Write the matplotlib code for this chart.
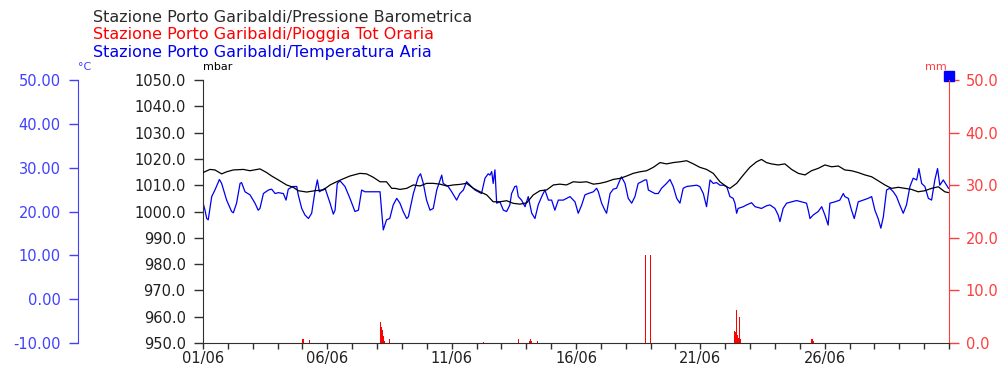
import numpy as np
import matplotlib.pyplot as plt

# Stazione Porto Garibaldi, June: time as days since 01/06 00:00
press_day = [0.00, 0.28, 0.48, 0.75, 0.95, 1.22, 1.62, 1.89, 2.29, 2.56, 2.76, 3.03,
             3.36, 3.63, 3.83, 4.17, 4.50, 4.84, 5.11, 5.37, 5.58, 5.91, 6.31, 6.58,
             6.85, 7.12, 7.38, 7.59, 7.72, 7.92, 8.19, 8.46, 8.73, 8.99, 9.26, 9.53,
             9.80, 10.07, 10.33, 10.60, 10.87, 11.14, 11.41, 11.67, 11.94, 12.21, 12.48,
             12.75, 13.02, 13.28, 13.55, 13.82, 14.09, 14.35, 14.62, 14.89, 15.16, 15.43,
             15.70, 15.96, 16.23, 16.50, 16.77, 17.04, 17.30, 17.57, 17.84, 18.11, 18.38,
             18.64, 18.91, 19.18, 19.45, 19.72, 19.98, 20.25, 20.52, 20.79, 21.06, 21.19,
             21.46, 21.73, 21.99, 22.26, 22.46, 22.66, 22.86, 23.13, 23.40, 23.67, 23.94,
             24.21, 24.47, 24.74, 25.01, 25.28, 25.55, 25.81, 26.08, 26.35, 26.62, 26.89,
             27.15, 27.42, 27.69, 27.96, 28.23, 28.49, 28.76, 29.03, 29.30, 29.57, 29.83,
             29.97]
press_val = [1014.8, 1016.0, 1015.8, 1014.3, 1015.1, 1015.8, 1016.0, 1015.5, 1016.2, 1014.8,
             1013.5, 1012.0, 1010.1, 1009.2, 1007.9, 1007.4, 1007.9, 1008.2, 1010.1, 1011.3,
             1012.2, 1013.5, 1014.5, 1014.3, 1013.0, 1011.3, 1011.3, 1008.8, 1008.8, 1008.4,
             1008.8, 1010.1, 1009.7, 1010.7, 1010.7, 1010.4, 1009.7, 1010.1, 1010.3, 1010.7,
             1008.8, 1007.5, 1006.3, 1003.7, 1003.7, 1004.1, 1003.1, 1002.8, 1003.3, 1006.3,
             1007.9, 1008.2, 1010.1, 1010.4, 1010.1, 1011.3, 1011.1, 1011.3, 1010.4, 1010.7,
             1011.3, 1012.2, 1012.6, 1013.5, 1014.5, 1015.1, 1015.5, 1016.8, 1018.6, 1018.1,
             1018.6, 1018.9, 1019.3, 1018.1, 1016.8, 1016.0, 1014.5, 1011.3, 1009.4, 1008.8,
             1010.7, 1013.9, 1016.8, 1018.9, 1019.8, 1018.6, 1018.1, 1017.7, 1018.1, 1016.0,
             1014.5, 1013.9, 1015.5, 1016.4, 1017.7, 1017.0, 1017.3, 1015.8, 1015.5, 1014.8,
             1013.9, 1013.2, 1011.7, 1010.1, 1008.8, 1009.2, 1008.8, 1008.4, 1007.5, 1007.9,
             1008.8, 1009.4, 1007.5, 1007.2]

temp_day = [0.00, 0.08, 0.15, 0.21, 0.35, 0.48, 0.66, 0.75, 0.95, 1.15, 1.22, 1.35, 1.49,
            1.55, 1.69, 1.89, 2.09, 2.22, 2.29, 2.43, 2.63, 2.76, 2.90, 3.03, 3.23, 3.34,
            3.43, 3.61, 3.77, 3.83, 3.97, 4.10, 4.24, 4.37, 4.50, 4.60, 4.68, 4.91, 5.11,
            5.24, 5.31, 5.40, 5.51, 5.71, 5.91, 6.11, 6.25, 6.38, 6.51, 6.85, 7.12, 7.18,
            7.25, 7.38, 7.51, 7.65, 7.79, 7.92, 8.05, 8.19, 8.26, 8.46, 8.66, 8.75, 8.86,
            8.99, 9.13, 9.26, 9.40, 9.60, 9.66, 9.86, 10.00, 10.20, 10.33, 10.47, 10.60,
            10.74, 10.94, 11.07, 11.20, 11.34, 11.47, 11.54, 11.61, 11.67, 11.74, 11.81,
            11.94, 12.08, 12.21, 12.34, 12.41, 12.54, 12.61, 12.68, 12.81, 12.95, 13.08,
            13.22, 13.35, 13.48, 13.62, 13.75, 13.89, 14.02, 14.15, 14.29, 14.49, 14.76,
            14.96, 15.09, 15.23, 15.36, 15.49, 15.70, 15.83, 15.90, 16.03, 16.16, 16.23,
            16.37, 16.50, 16.63, 16.77, 16.83, 16.97, 17.10, 17.24, 17.37, 17.50, 17.64,
            17.77, 17.84, 17.91, 18.04, 18.17, 18.31, 18.44, 18.64, 18.78, 18.91, 19.05,
            19.18, 19.31, 19.45, 19.58, 19.85, 19.98, 20.12, 20.25, 20.32, 20.39, 20.52,
            20.65, 20.79, 20.92, 21.06, 21.19, 21.32, 21.39, 21.46, 21.52, 21.73, 21.86,
            22.06, 22.20, 22.33, 22.46, 22.66, 22.80, 23.00, 23.13, 23.20, 23.33, 23.47,
            23.67, 23.87, 24.07, 24.27, 24.34, 24.41, 24.54, 24.74, 24.88, 25.01, 25.14,
            25.21, 25.41, 25.61, 25.75, 25.81, 25.95, 26.08, 26.19, 26.35, 26.55, 26.75,
            26.89, 27.02, 27.15, 27.26, 27.36, 27.49, 27.62, 27.76, 27.89, 28.02, 28.16,
            28.29, 28.43, 28.56, 28.70, 28.79, 28.90, 29.03, 29.17, 29.30, 29.43, 29.54,
            29.63, 29.77, 29.90, 29.98]
temp_val = [22.0, 20.3, 18.4, 18.1, 23.4, 24.9, 27.3, 26.4, 22.6, 20.0, 19.7, 21.9, 26.4,
            26.6, 24.5, 23.8, 21.9, 20.3, 20.7, 24.1, 24.9, 25.1, 24.1, 24.3, 24.1, 22.6,
            25.1, 25.7, 25.7, 23.8, 20.7, 19.2, 18.4, 19.6, 24.5, 27.2, 24.5, 25.3, 21.9,
            19.4, 20.3, 26.4, 27.0, 25.7, 23.0, 20.0, 20.3, 24.9, 24.5, 24.5, 24.5, 20.3,
            15.8, 18.1, 18.4, 21.5, 23.0, 21.9, 20.0, 18.4, 18.8, 24.1, 27.9, 28.6, 26.4,
            22.6, 20.3, 20.7, 24.9, 28.3, 26.4, 25.7, 24.5, 22.6, 24.1, 24.9, 26.8,
            26.0, 24.9, 24.5, 24.1, 27.6, 28.6, 28.3, 29.1, 26.4, 29.5, 21.9,
            22.2, 20.3, 20.0, 21.5, 24.1, 25.7, 25.8, 23.4, 22.6, 21.1, 23.4,
            19.6, 18.4, 21.5, 23.4, 24.9, 22.6, 22.6, 20.3, 22.6, 22.6, 23.4,
            22.2, 19.6, 21.5, 23.8, 24.1, 24.5, 25.3, 24.5, 21.9, 20.3, 19.6,
            24.1, 25.1, 25.3, 27.2, 27.9, 26.4, 23.0, 21.9, 23.4, 26.4, 26.8,
            27.2, 27.2, 24.9, 24.5, 24.1, 24.1, 25.3, 26.4, 27.3, 25.7, 23.0,
            21.9, 25.3, 25.7, 25.8, 26.0, 25.7, 24.1, 21.1, 24.1, 27.2, 26.4,
            26.6, 26.0, 26.0, 25.7, 23.4, 23.0, 21.9, 19.6, 20.7, 21.1, 21.5,
            22.0, 21.1, 20.9, 20.7, 21.3, 21.5, 20.7, 19.2, 17.7, 20.7, 21.9,
            22.2, 22.5, 22.2, 21.9, 20.3, 18.4, 19.2, 20.0, 21.1, 19.2, 16.9,
            21.9, 22.2, 22.6, 24.1, 23.4, 23.0, 20.3, 18.4, 22.2, 22.6, 23.0,
            23.4, 20.3, 18.4, 16.2, 18.8, 24.9, 25.3, 24.5, 23.4, 21.5, 19.6,
            21.5, 25.7, 27.6, 27.2, 29.8, 26.4, 25.7, 23.0, 22.6, 27.2, 29.8,
            26.0, 27.2, 26.0, 25.3]

rain_day = [4.00, 4.25, 7.10, 7.14, 7.18, 7.22, 7.26, 7.48, 11.25, 12.67, 13.10, 13.15,
            13.19, 13.42, 17.77, 17.96, 21.35, 21.39, 21.43, 21.47, 21.51, 21.55, 21.59,
            24.47, 24.51]
rain_val = [0.7, 0.5, 4.0, 3.1, 2.5, 1.3, 0.4, 0.7, 0.1, 0.7, 0.4, 0.8,
            0.4, 0.4, 16.7, 16.7, 2.2, 2.0, 6.3, 1.5, 1.0, 4.9, 0.8,
            0.7, 0.3]

day_ticks = np.arange(0, 31)
label_days = [0, 5, 10, 15, 20, 25]
day_labels = ['01/06', '06/06', '11/06', '16/06', '21/06', '26/06']

series_names = ['Stazione Porto Garibaldi/Pressione Barometrica',
                'Stazione Porto Garibaldi/Pioggia Tot Oraria',
                'Stazione Porto Garibaldi/Temperatura Aria']

BLACK = '#000000'
AXGRAY = '#303030'
RED = '#ff0000'
RED_AX = '#ff3c3c'
BLUE = '#0000f0'
BLUE_AX = '#4040ff'

plt.rcParams['font.family'] = 'DejaVu Sans'
plt.rcParams['font.size'] = 10

fig = plt.figure(figsize=(10.03, 3.65), dpi=100)
W, H = 1003, 365
ax_p = fig.add_axes([203 / W, 22 / H, 746 / W, 263 / H])
ax_t = ax_p.twinx()
ax_r = ax_p.twinx()

# rain bars (hourly totals) on the right axis
ax_r.bar(rain_day, rain_val, width=0.042, align='edge', color=RED, linewidth=0)
ax_r.set_ylim(0, 50)
ax_r.set_yticks(np.arange(0, 51, 10))
ax_r.set_yticklabels(['%.1f' % v for v in np.arange(0, 51, 10)])
for s in ['top', 'left', 'bottom']:
    ax_r.spines[s].set_visible(False)
ax_r.spines['right'].set_color(RED_AX)
ax_r.tick_params(axis='y', colors=RED_AX, length=7, width=1, pad=5, labelsize=10.5)

# air temperature on an outer left axis
ax_t.plot(temp_day, temp_val, color=BLUE, lw=0.9)
ax_t.set_ylim(-10, 50)
ax_t.set_yticks(np.arange(-10, 51, 10))
ax_t.set_yticklabels(['%.2f' % v for v in np.arange(-10, 51, 10)])
ax_t.yaxis.set_ticks_position('left')
ax_t.yaxis.set_label_position('left')
for s in ['top', 'right', 'bottom']:
    ax_t.spines[s].set_visible(False)
ax_t.spines['left'].set_visible(True)
ax_t.spines['left'].set_position(('outward', 90))
ax_t.spines['left'].set_color(BLUE_AX)
ax_t.tick_params(axis='y', colors=BLUE_AX, length=6.5, width=1, pad=6, labelsize=10.5)

# barometric pressure on the main axis
ax_p.plot(press_day, press_val, color=BLACK, lw=0.9, zorder=5)
ax_p.set_zorder(ax_t.get_zorder() + 2)
ax_p.patch.set_visible(False)
ax_p.set_ylim(950, 1050)
ax_p.set_yticks(np.arange(950, 1051, 10))
ax_p.set_yticklabels(['%.1f' % v for v in np.arange(950, 1051, 10)])
ax_p.set_xlim(0, 30)
ax_p.set_xticks(day_ticks)
ax_p.set_xticklabels([day_labels[label_days.index(d)] if d in label_days else ''
                      for d in day_ticks])
for s in ['top', 'right']:
    ax_p.spines[s].set_visible(False)
ax_p.spines['left'].set_color(AXGRAY)
ax_p.spines['bottom'].set_color(AXGRAY)
ax_p.tick_params(axis='y', colors=AXGRAY, labelcolor='#202020', length=6.5, width=1,
                 pad=6, labelsize=10.5)
ax_p.tick_params(axis='x', colors=AXGRAY, labelcolor='#202020', length=4.5, width=1,
                 pad=1, labelsize=10.5)

# units above each axis
fig.text(78 / W, 1 - 67 / H, '°C', color=BLUE_AX, fontsize=8, va='center', ha='left')
fig.text(203 / W, 1 - 67 / H, 'mbar', color=BLACK, fontsize=8, va='center', ha='left')
fig.text(947 / W, 1 - 67 / H, 'mm', color=RED_AX, fontsize=8, va='center', ha='right')
ax_r.plot([1.0], [1.014], 's', color='#0000ff', ms=7, transform=ax_r.transAxes,
          clip_on=False)

# series titles
for i, (name, col) in enumerate(zip(series_names, ['#2a2a2a', RED, BLUE])):
    fig.text(93 / W, 1 - (17.3 + 17.5 * i) / H, name, color=col, fontsize=11.5,
             va='center', ha='left')

fig.savefig('out.png', dpi=100)
